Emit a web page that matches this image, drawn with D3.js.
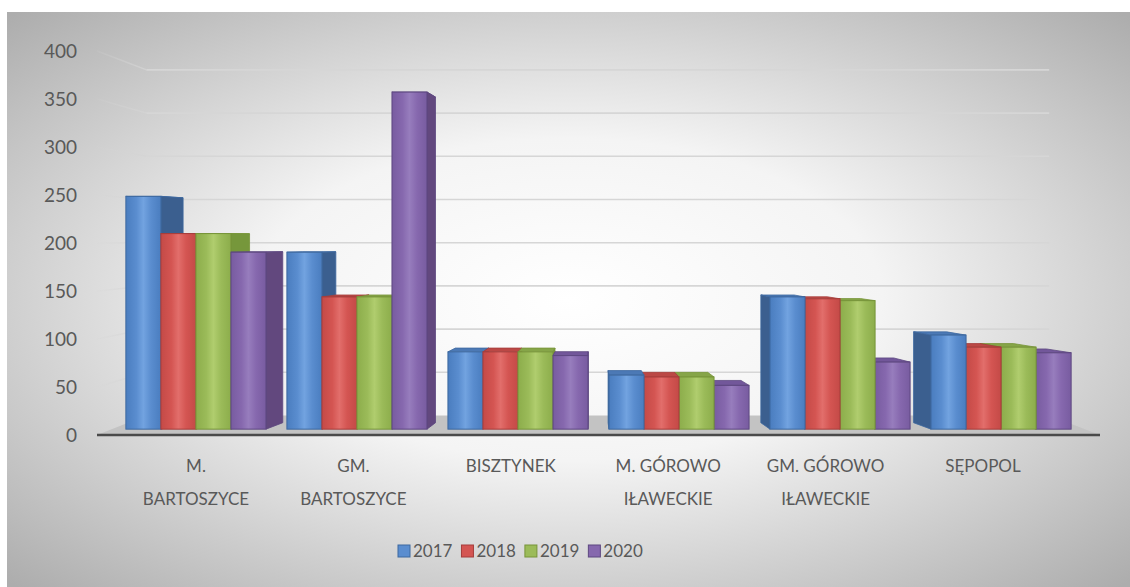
<!DOCTYPE html>
<html><head><meta charset="utf-8">
<script src="https://d3js.org/d3.v7.min.js"></script>
<style>html,body{margin:0;padding:0;background:#fff}svg{display:block}</style>
</head><body>
<svg id="c" width="1130" height="587"></svg>
<script>
// ---- data ----
const categories = ["M.\nBARTOSZYCE", "GM.\nBARTOSZYCE", "BISZTYNEK", "M. GÓROWO\nIŁAWECKIE", "GM. GÓROWO\nIŁAWECKIE", "SĘPOPOL"];
const years = ["2017", "2018", "2019", "2020"];
const values2017 = [250, 190, 83, 58, 142, 101];
const values2018 = [210, 142, 83, 56, 140, 88];
const values2019 = [210, 142, 83, 56, 138, 88];
const values2020 = [190, 362, 79, 47, 72, 82];
const yTicks = [0, 50, 100, 150, 200, 250, 300, 350, 400];

const seriesValues = [values2017, values2018, values2019, values2020];
const palette = {
  "2017": {front: "#5a8dcf", light: "#72a3e0", dark: "#4a7dbf", edge: "#3d689f", side: "#3b5f8f", top: "#4c79b5"},
  "2018": {front: "#d45552", light: "#e26e6b", dark: "#c44a47", edge: "#a53d3b", side: "#a23d3a", top: "#bb4845"},
  "2019": {front: "#9bbb59", light: "#b0cd6e", dark: "#8cad4b", edge: "#779439", side: "#76973b", top: "#86a548"},
  "2020": {front: "#8668ae", light: "#977dbd", dark: "#785ca0", edge: "#5d4780", side: "#62487e", top: "#72579a"}
};

const svg = d3.select("#c");
const W = 1130, H = 587;
const VX = 592, VY = 240;          // vanishing point
const K1 = 0.03, K2 = 0.08, KW = 0.1; // depths: bar front, bar back, back wall
const depth = (p, k) => [VX + (p[0] - VX) * (1 - k), VY + (p[1] - VY) * (1 - k)];

const defs = svg.append("defs");
const bg = defs.append("radialGradient").attr("id", "bg")
  .attr("cx", "50%").attr("cy", "50%").attr("r", "70%");
bg.append("stop").attr("offset", "0%").attr("stop-color", "#ffffff");
bg.append("stop").attr("offset", "40%").attr("stop-color", "#f4f4f4");
bg.append("stop").attr("offset", "100%").attr("stop-color", "#adadad");

years.forEach(y => {
  const c = palette[y];
  const g = defs.append("linearGradient").attr("id", "f" + y).attr("x1", "0").attr("x2", "1").attr("y1", "0").attr("y2", "0");
  [[0, c.dark], [0.3, c.front], [0.5, c.light], [0.72, c.front], [1, c.dark]].forEach(s =>
    g.append("stop").attr("offset", s[0]).attr("stop-color", s[1]));
});
const fade = defs.append("linearGradient").attr("id", "fade").attr("x1", "0").attr("x2", "1");
fade.append("stop").attr("offset", "0").attr("stop-color", "#d4d4d4").attr("stop-opacity", 0.1);
fade.append("stop").attr("offset", "1").attr("stop-color", "#d4d4d4").attr("stop-opacity", 0.8);

// background
svg.append("rect").attr("x", 0).attr("y", 0).attr("width", W).attr("height", H).attr("fill", "#fff");
svg.append("rect").attr("x", 7).attr("y", 12).attr("width", W - 7).attr("height", H - 12).attr("fill", "url(#bg)");

// scales
const y = d3.scaleLinear().domain([0, 400]).range([435, 51]);   // front plane
const axisLeft = 97, axisRight = 1100;
const x = d3.scaleBand().domain(categories).range([115.4, 1081.6]).paddingInner(0.13).paddingOuter(0.065);
const xs = d3.scaleBand().domain(years).range([0, x.bandwidth()]);
const xl = d3.scalePoint().domain(categories).range([196, 983]);

// side wall and back wall gridlines
const grid = svg.append("g");
yTicks.forEach(t => {
  const f = [axisLeft, y(t)];
  const b = depth(f, KW);
  const br = depth([axisRight, y(t)], KW);
  if (t > 0) {
    grid.append("line").attr("x1", f[0]).attr("y1", f[1]).attr("x2", b[0]).attr("y2", b[1])
      .attr("stroke", "url(#fade)").attr("stroke-width", 1.5);
    grid.append("line").attr("x1", b[0]).attr("y1", b[1]).attr("x2", br[0]).attr("y2", br[1])
      .attr("stroke", "#d6d6d6").attr("stroke-width", 1.6);
  }
});

// floor
const fl = [[axisLeft, y(0)], [axisRight, y(0)], depth([axisRight, y(0)], KW), depth([axisLeft, y(0)], KW)];
svg.append("polygon").attr("points", fl.map(p => p.join(",")).join(" ")).attr("fill", "#c3c3c3");
svg.append("line").attr("x1", axisLeft).attr("x2", axisRight).attr("y1", y(0)).attr("y2", y(0))
  .attr("stroke", "#4a4a4a").attr("stroke-width", 2.5);

// bars
const bars = [];
categories.forEach((c, i) => years.forEach((yr, j) => {
  const v = seriesValues[j][i];
  const x0 = x(c) + xs(yr), x1 = x0 + xs.bandwidth();
  const yt = depth([0, y(v)], K1)[1], yb = depth([0, y(0)], K1)[1];
  bars.push({c, yr, v, x0, x1, yt, yb});
}));
bars.sort((a, b) => Math.abs((b.x0 + b.x1) / 2 - VX) - Math.abs((a.x0 + a.x1) / 2 - VX));
const kb = 1 - (1 - K2) / (1 - K1);
const kbY = 0.034;
const back = p => [p[0] + (VX - p[0]) * kb, p[1] + (VY - p[1]) * kbY];
const pts = arr => arr.map(p => p.join(",")).join(" ");
const gb = svg.append("g");
bars.forEach(b => {
  const c = palette[b.yr];
  const g = gb.append("g");
  // top face
  g.append("polygon").attr("points", pts([[b.x0, b.yt], [b.x1, b.yt], back([b.x1, b.yt]), back([b.x0, b.yt])]))
    .attr("fill", c.top).attr("stroke", c.edge).attr("stroke-width", 0.8);
  // side face
  if (b.x1 < VX) {
    g.append("polygon").attr("points", pts([[b.x1, b.yt], back([b.x1, b.yt]), back([b.x1, b.yb]), [b.x1, b.yb]]))
      .attr("fill", c.side).attr("stroke", c.edge).attr("stroke-width", 0.8);
  } else if (b.x0 > VX) {
    g.append("polygon").attr("points", pts([[b.x0, b.yt], back([b.x0, b.yt]), back([b.x0, b.yb]), [b.x0, b.yb]]))
      .attr("fill", c.side).attr("stroke", c.edge).attr("stroke-width", 0.8);
  }
  // front face
  g.append("rect").attr("x", b.x0).attr("y", b.yt).attr("width", b.x1 - b.x0).attr("height", b.yb - b.yt)
    .attr("fill", "url(#f" + b.yr + ")").attr("stroke", c.edge).attr("stroke-width", 1);
});

// y axis labels
const font = "Lato, 'Open Sans', sans-serif";
svg.append("g").selectAll("text").data(yTicks).join("text")
  .attr("x", 77).attr("y", d => y(d)).attr("dy", "0.35em").attr("text-anchor", "end")
  .attr("font-family", font).attr("font-size", 19).attr("fill", "#595959").text(d => d);

// category labels
const cl = svg.append("g");
categories.forEach(c => {
  const lines = c.split("\n");
  const t = cl.append("text").attr("x", xl(c)).attr("y", 472).attr("text-anchor", "middle")
    .attr("font-family", font).attr("font-size", 17).attr("fill", "#595959");
  lines.forEach((ln, i) => t.append("tspan").attr("x", xl(c)).attr("dy", i === 0 ? 0 : 33).text(ln));
});

// legend
const lg = svg.append("g");
let lx = 398;
years.forEach(yr => {
  const c = palette[yr];
  lg.append("rect").attr("x", lx).attr("y", 545).attr("width", 12).attr("height", 12)
    .attr("fill", c.front).attr("stroke", c.edge).attr("stroke-width", 1);
  const t = lg.append("text").attr("x", lx + 15).attr("y", 557).attr("font-family", font)
    .attr("font-size", 17).attr("fill", "#595959").text(yr);
  lx += 15 + t.node().getComputedTextLength() + 9;
});
</script>
</body></html>
